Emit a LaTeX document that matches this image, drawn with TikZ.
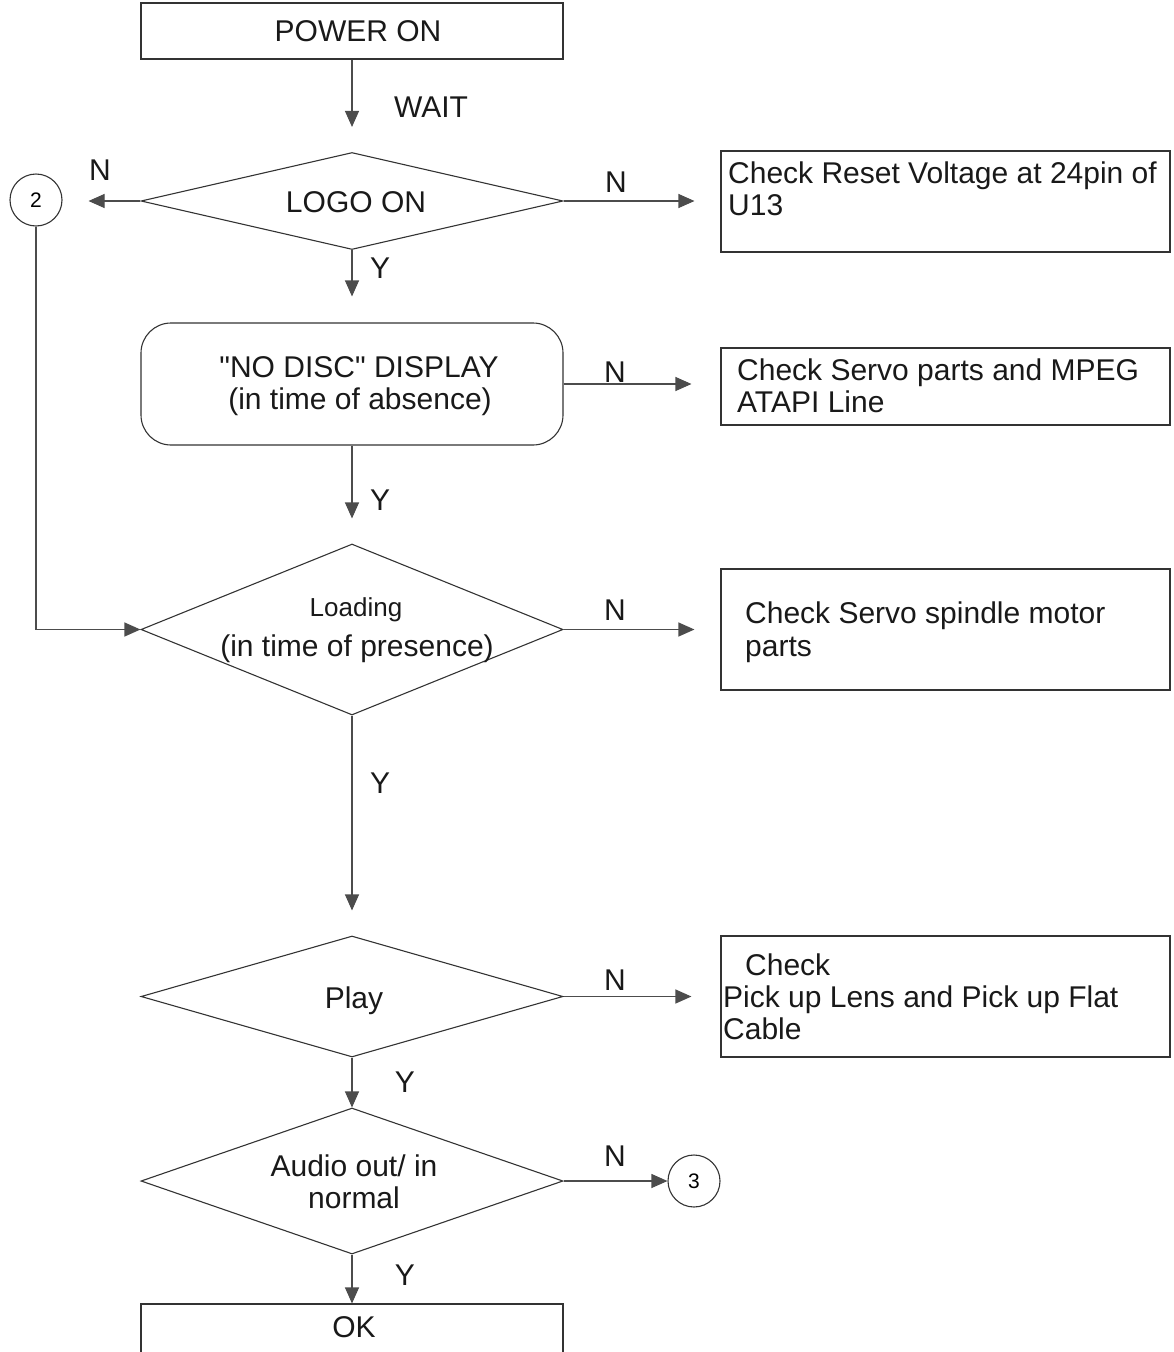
\documentclass[tikz,border=0pt]{standalone}
\usepackage{fontspec}
\setmainfont{Liberation Sans}
\newfontfamily\plainfont{Liberation Sans}
\usetikzlibrary{shapes.geometric,arrows.meta}
\begin{document}
\begin{tikzpicture}[x=1pt,y=-1pt,
  shapeline/.style={draw=black!80, line width=1.1pt},
  boxnode/.style={shapeline, rectangle, inner sep=0pt},
  dianode/.style={shapeline, diamond, inner sep=0pt},
  connode/.style={shapeline, circle, inner sep=0pt, minimum size=52pt, font=\fontsize{21}{25}\selectfont},
  txt/.style={inner sep=0pt, anchor=base, font=\fontsize{30}{36}\selectfont, text=black!90},
  txtw/.style={txt, anchor=base west},
  smalltxt/.style={txt, font=\fontsize{26}{30}\selectfont},
  conn/.style={draw=black!70, line width=1.1pt, -{Triangle[length=16pt,width=14pt]}}
]
\useasboundingbox (0,0) rectangle (1174,1352);
\clip (0,0) rectangle (1174,1352);

% shapes
\node[boxnode, minimum width=422pt, minimum height=56pt] (power) at (352,31) {};
\node[dianode, minimum width=422pt, minimum height=97pt] (logo) at (352,201) {};
\node[boxnode, minimum width=449pt, minimum height=101pt] (reset) at (945.5,201.5) {};
\node[connode] (c2) at (36,200) {2};
\node[boxnode, rounded corners=30pt, minimum width=422pt, minimum height=122pt] (nodisc) at (352,384) {};
\node[boxnode, minimum width=449pt, minimum height=77pt] (servo) at (945.5,386.5) {};
\node[dianode, minimum width=422pt, minimum height=171pt] (loading) at (352,629.5) {};
\node[boxnode, minimum width=449pt, minimum height=121pt] (spindle) at (945.5,629.5) {};
\node[dianode, minimum width=422pt, minimum height=121pt] (play) at (352,996.5) {};
\node[boxnode, minimum width=449pt, minimum height=121pt] (pickup) at (945.5,996.5) {};
\node[dianode, minimum width=422pt, minimum height=146pt] (audio) at (352,1181) {};
\node[connode] (c3) at (694,1181) {3};
\node[boxnode, minimum width=422pt, minimum height=60pt] (ok) at (352,1334) {};

% texts
\node[txt] (tpower) at (358,41) {POWER ON};
\node[txt] (twait) at (431,117) {WAIT};
\node[txt] (tlogo) at (356,212) {LOGO ON};
\node[txt] (tn1) at (100,180) {N};
\node[txt] (tn2) at (616,192) {N};
\node[txtw] (treset1) at (728,183) {Check Reset Voltage at 24pin of};
\node[txtw] (treset2) at (728,215) {U13};
\node[txt] (ty1) at (380,278) {Y};
\node[txt] (tnd1) at (359,377) {\plainfont "NO DISC" DISPLAY};
\node[txt] (tnd2) at (360,409) {(in time of absence)};
\node[txt] (tn3) at (615,382) {N};
\node[txtw] (tservo1) at (737,380) {Check Servo parts and MPEG};
\node[txtw] (tservo2) at (737,412) {ATAPI Line};
\node[txt] (ty2) at (380,510) {Y};
\node[smalltxt] (tload1) at (356,616) {Loading};
\node[txt] (tload2) at (357,656) {(in time of presence)};
\node[txt] (tn4) at (615,620) {N};
\node[txtw] (tsp1) at (745,623) {Check Servo spindle motor};
\node[txtw] (tsp2) at (745,656) {parts};
\node[txt] (ty3) at (380,793) {Y};
\node[txt] (tplay) at (354,1008) {Play};
\node[txt] (tn5) at (615,990) {N};
\node[txtw] (tpk1) at (745,975) {Check};
\node[txtw] (tpk2) at (723,1007) {Pick up Lens and Pick up Flat};
\node[txtw] (tpk3) at (723,1039) {Cable};
\node[txt] (ty4) at (405,1092) {Y};
\node[txt] (taud1) at (354,1176) {Audio out/ in};
\node[txt] (taud2) at (354,1208) {normal};
\node[txt] (tn6) at (615,1166) {N};
\node[txt] (ty5) at (405,1285) {Y};
\node[txt] (tok) at (354,1337) {OK};

% connectors
\draw[conn, shorten >=25pt] (power.south) -- (logo.north);
\draw[conn, shorten >=26pt] (logo.west) -- (logo.west -| c2.east);
\draw[conn, shorten >=26pt] (logo.east) -- (reset.west |- logo.east);
\draw[conn, shorten >=26pt] (logo.south) -- (nodisc.north);
\draw[conn, shorten >=29pt] (nodisc.east) -- (servo.west |- nodisc.east);
\draw[conn, shorten >=25pt] (nodisc.south) -- (loading.north);
\draw[conn] (c2.south) |- (loading.west);
\draw[conn, shorten >=26pt] (loading.east) -- (spindle.west |- loading.east);
\draw[conn, shorten >=25pt] (loading.south) -- (play.north);
\draw[conn, shorten >=29pt] (play.east) -- (pickup.west |- play.east);
\draw[conn] (play.south) -- (audio.north);
\draw[conn] (audio.east) -- (c3.west);
\draw[conn] (audio.south) -- (ok.north);
\end{tikzpicture}
\end{document}
